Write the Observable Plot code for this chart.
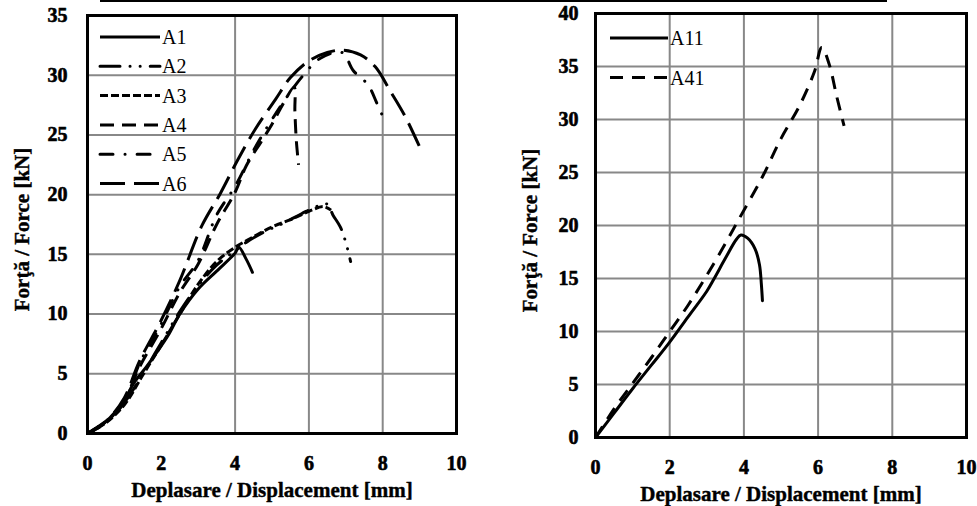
<!DOCTYPE html>
<html>
<head>
<meta charset="utf-8">
<script src="https://cdn.jsdelivr.net/npm/d3@7"></script>
<script src="https://cdn.jsdelivr.net/npm/@observablehq/plot@0.6"></script>
<style>
  html, body { margin: 0; padding: 0; background: #fff; }
  body { width: 977px; height: 506px; position: relative; overflow: hidden; font-family: "Liberation Serif", "Times New Roman", serif; }
  #topline { position: absolute; left: 100px; top: 0; width: 787px; height: 2px; background: #000; }
  .chart { position: absolute; top: 0; }
  .chart svg text { font-family: "Liberation Serif", "Times New Roman", serif; font-weight: bold; }
  .chart svg.legend text { font-weight: normal; }
  .legend { position: absolute; left: 0; top: 0; overflow: visible; }
</style>
</head>
<body>
<div id="topline"></div>
<div id="left" class="chart" style="left:0px"></div>
<div id="right" class="chart" style="left:500px"></div>
<script>
// ---------- DATA ----------
const xTicks = [0, 2, 4, 6, 8, 10];
const leftYTicks = [0, 5, 10, 15, 20, 25, 30, 35];
const rightYTicks = [0, 5, 10, 15, 20, 25, 30, 35, 40];
const leftGridX = [4, 6, 8];
const leftGridY = [5, 10, 15, 20, 25, 30];
const rightGridX = [2, 4, 6, 8];
const rightGridY = [5, 10, 15, 20, 25, 30, 35];

const xTitle = "Deplasare / Displacement [mm]";
const yTitle = "Forţă / Force [kN]";

const leftSeries = ["A1", "A2", "A3", "A4", "A5", "A6"];
const rightSeries = ["A11", "A41"];

// [displacement mm, force kN]
const A1 = [[0,0],[0.3,0.6],[0.6,1.3],[1.0,2.8],[1.25,4.2],[1.6,5.6],[1.9,6.9],[2.2,8.3],[2.5,10.0],[3.0,12.1],[3.5,13.6],[4.0,15.1],[4.1,15.6],[4.3,14.6],[4.47,13.5]];
const A2 = [[0,0],[0.5,1.0],[1.0,2.6],[1.5,5.0],[2.0,7.6],[2.5,10.2],[3.0,12.4],[3.5,14.1],[4.0,15.3],[4.3,16.0],[4.8,16.9],[5.3,17.6],[5.8,18.4],[6.2,19.0],[6.5,19.2],[6.65,18.3],[6.85,17.3],[7.0,16.0],[7.13,14.4]];
const A3 = [[0,0],[0.5,0.9],[1.0,2.4],[1.5,4.9],[2.0,7.4],[2.5,10.0],[3.0,12.5],[3.5,14.4],[4.0,15.6],[4.4,16.3],[5.0,17.3],[5.5,17.9],[6.0,18.6],[6.4,19.0],[6.6,18.7]];
const A4 = [[0,0],[0.5,0.9],[1.0,2.8],[1.4,5.5],[2.0,8.8],[2.5,11.8],[3.0,14.2],[3.5,17.5],[4.0,20.2],[4.3,22.4],[4.7,24.4],[5.0,25.9],[5.3,27.6],[5.6,29.0],[5.62,27.0],[5.66,24.5],[5.72,22.5]];
const A5 = [[0,0],[0.5,1.0],[1.0,2.6],[1.4,5.8],[2.0,9.2],[2.5,12.3],[3.0,14.5],[3.5,18.3],[4.0,20.7],[4.5,23.7],[5.0,26.3],[5.5,28.6],[5.85,30.0],[6.3,31.4],[6.9,31.9],[7.2,30.4],[7.6,29.2],[7.85,27.6],[8.05,26.2]];
const A6 = [[0,0],[0.5,1.0],[1.0,3.0],[1.4,6.0],[2.0,9.5],[2.5,12.8],[3.1,17.4],[3.6,20.1],[4.07,22.9],[4.55,25.5],[5.1,28.0],[5.5,29.8],[6.0,31.2],[6.5,31.9],[6.9,32.1],[7.4,31.7],[7.8,30.7],[8.2,28.7],[8.6,26.6],[9.0,24.0]];

const A11 = [[0,0],[0.5,2.3],[1.0,4.6],[1.5,6.8],[2.0,9.0],[2.5,11.4],[3.0,13.8],[3.2,15.0],[3.5,16.9],[3.8,18.7],[3.92,19.1],[4.1,18.8],[4.3,17.8],[4.42,16.3],[4.47,14.5],[4.5,12.9]];
const A41 = [[0,0],[0.5,2.7],[1.0,5.1],[1.5,7.5],[2.0,10.0],[2.5,12.5],[3.0,15.3],[3.5,18.3],[3.85,20.5],[4.5,24.6],[5.0,28.2],[5.5,31.3],[5.9,34.5],[6.1,36.8],[6.3,35.2],[6.5,32.2],[6.7,29.4]];

// ---------- STYLES ----------
const dash = {
  A1: null, A2: "20,10,0.1,10,0.1,10", A3: "8,3", A4: "14,8", A5: "13,12,0.1,12", A6: "25,9",
  A11: null, A41: "13,9"
};
const seriesData = {A1, A2, A3, A4, A5, A6, A11, A41};
const serif = "Liberation Serif";
const heavy = {fontWeight: "bold", fontFamily: serif, fill: "#000", stroke: "#000", strokeWidth: 0.6};

function lineMark(name, width) {
  const o = {x: d => d[0], y: d => d[1], stroke: "#000", strokeWidth: width, curve: "catmull-rom", strokeLinecap: "butt"};
  if (!dash[name]) o.strokeLinecap = "round";
  if (dash[name]) { o.strokeDasharray = dash[name]; if (name === "A2" || name === "A5") o.strokeLinecap = "round"; }
  return Plot.line(seriesData[name], o);
}

function makeChart(cfg) {
  return Plot.plot({
    width: cfg.width, height: 506,
    marginLeft: cfg.ml, marginRight: cfg.mr, marginTop: cfg.mt, marginBottom: cfg.mb,
    style: {fontFamily: serif, fontSize: "20px", fontWeight: "bold", background: "transparent", color: "#000", overflow: "visible"},
    x: {domain: [0, 10], axis: null},
    y: {domain: cfg.ydomain, axis: null},
    marks: [
      Plot.gridX(cfg.gridX, {stroke: "#888", strokeOpacity: 1, strokeWidth: 2}),
      Plot.gridY(cfg.gridY, {stroke: "#888", strokeOpacity: 1, strokeWidth: 2}),
      Plot.text(xTicks, {x: d => d, text: d => String(d), frameAnchor: "bottom", textAnchor: "middle", lineAnchor: "middle", dy: 30, fontSize: 20, ...heavy}),
      Plot.text(cfg.yticks, {y: d => d, text: d => String(d), frameAnchor: "left", textAnchor: "end", lineAnchor: "middle", dx: -cfg.ypad, fontSize: 20, ...heavy}),
      ...cfg.series.map(s => lineMark(s, cfg.sw)),
      Plot.frame({stroke: "#000", strokeWidth: 3}),
      Plot.text([xTitle], {frameAnchor: "bottom", textAnchor: "middle", lineAnchor: "middle", dy: 57, text: d => d, fontSize: 21, ...heavy, strokeWidth: 0.4}),
      Plot.text([yTitle], {frameAnchor: "left", textAnchor: "middle", lineAnchor: "middle", dx: -65, dy: 5, rotate: -90, text: d => d, fontSize: 21, ...heavy, strokeWidth: 0.4})
    ]
  });
}

const leftSvg = makeChart({width: 480, ml: 87, mr: 24, mt: 15, mb: 73, ydomain: [0, 35], yticks: leftYTicks, gridX: leftGridX, gridY: leftGridY, ypad: 20, series: leftSeries, sw: 3});
const rightSvg = makeChart({width: 477, ml: 95, mr: 11, mt: 13, mb: 69, ydomain: [0, 40], yticks: rightYTicks, gridX: rightGridX, gridY: rightGridY, ypad: 17, series: rightSeries, sw: 3});
document.getElementById("left").appendChild(leftSvg);
document.getElementById("right").appendChild(rightSvg);

// ---------- LEGENDS ----------
function legend(container, names, x0, x1, y0, step) {
  const svg = d3.select(container).append("svg").attr("class", "legend").attr("width", 300).attr("height", 220);
  names.forEach((n, i) => {
    const y = y0 + i * step;
    const l = svg.append("line").attr("x1", x0).attr("x2", x1).attr("y1", y).attr("y2", y)
      .attr("stroke", "#000").attr("stroke-width", 3);
    if (dash[n]) l.attr("stroke-dasharray", dash[n]).attr("stroke-linecap", (n === "A2" || n === "A5") ? "round" : "butt");
    svg.append("text").attr("x", x1 + 2).attr("y", y + 7).text(n)
      .attr("font-family", serif).attr("font-size", 20).attr("fill", "#000");
  });
}
legend("#left", leftSeries, 100, 160, 37, 29.3);
legend("#right", rightSeries, 110, 168, 38, 39.5);
</script>
</body>
</html>
